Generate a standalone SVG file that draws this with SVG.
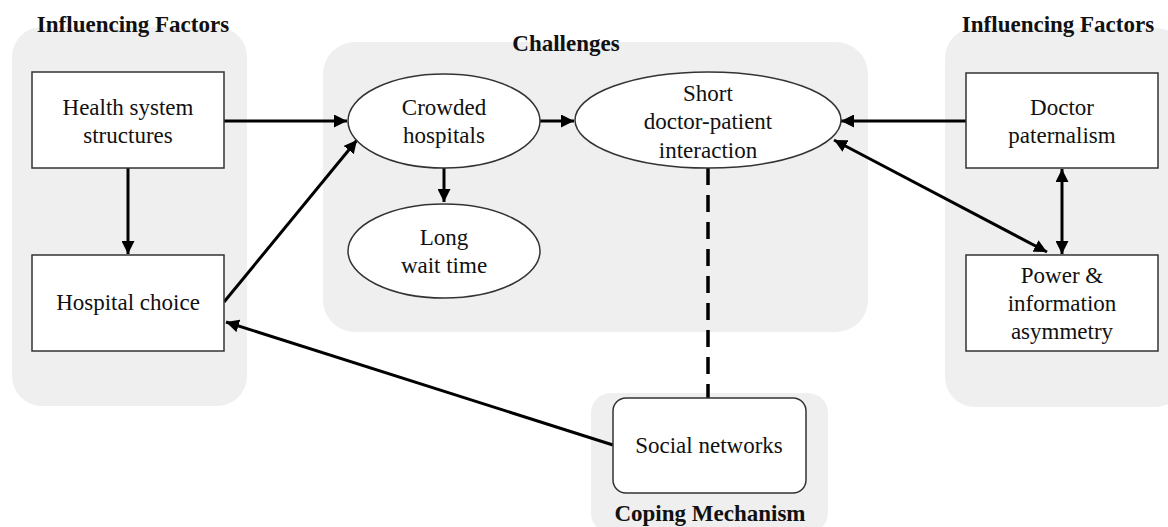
<svg xmlns="http://www.w3.org/2000/svg" width="1168" height="527" viewBox="0 0 1168 527">
<style>
.panel{fill:#efefef;stroke:none}
.box{fill:#fff;stroke:#333;stroke-width:1.5}
.t{font-family:"Liberation Serif","Times New Roman",serif;font-size:23px;fill:#111;text-anchor:middle}
.h{font-family:"Liberation Serif","Times New Roman",serif;font-size:23px;font-weight:bold;fill:#111;text-anchor:middle}
.c{fill:none;stroke:#000;stroke-width:3}
.d{fill:none;stroke:#000;stroke-width:3.5;stroke-dasharray:17 10}
</style>
<defs>
<marker id="ah" markerUnits="userSpaceOnUse" markerWidth="15" markerHeight="13" refX="13" refY="6.5" orient="auto-start-reverse" viewBox="0 0 15 13">
<path d="M0,0 L13,6.5 L0,13 Z" fill="#000"/>
</marker>
</defs>
<g id="panels">
<rect class="panel" x="12" y="27" width="235" height="379" rx="30"/>
<rect class="panel" x="323" y="42" width="545" height="290" rx="32"/>
<rect class="panel" x="945" y="28" width="240" height="379" rx="30"/>
<rect class="panel" x="591" y="393" width="237" height="140" rx="20"/>
<text class="h" x="133" y="32">Influencing Factors</text>
<text class="h" x="566" y="51">Challenges</text>
<text class="h" x="1058" y="32">Influencing Factors</text>
<text class="h" x="710" y="521">Coping Mechanism</text>
</g>
<g id="connectors">
<line class="c" x1="224" y1="121" x2="347" y2="121" marker-end="url(#ah)"/>
<line class="c" x1="128" y1="168" x2="128" y2="254" marker-end="url(#ah)"/>
<line class="c" x1="224" y1="302" x2="357" y2="140" marker-end="url(#ah)"/>
<line class="c" x1="444" y1="168" x2="444" y2="202" marker-end="url(#ah)"/>
<line class="c" x1="540" y1="121" x2="574" y2="121" marker-end="url(#ah)"/>
<line class="c" x1="966" y1="121" x2="841" y2="121" marker-end="url(#ah)"/>
<line class="c" x1="834" y1="140" x2="1047" y2="252" marker-start="url(#ah)" marker-end="url(#ah)"/>
<line class="c" x1="1062" y1="169" x2="1062" y2="254" marker-start="url(#ah)" marker-end="url(#ah)"/>
<line class="c" x1="613" y1="445" x2="226" y2="322" marker-end="url(#ah)"/>
<line class="d" x1="708" y1="168" x2="708" y2="398"/>
</g>
<g id="health">
<rect class="box" x="32" y="72" width="192" height="96"/>
<text class="t" x="128" y="115">Health system</text>
<text class="t" x="128" y="143">structures</text>
</g>
<g id="hospital">
<rect class="box" x="32" y="255" width="192" height="96"/>
<text class="t" x="128" y="310">Hospital choice</text>
</g>
<g id="crowded">
<ellipse class="box" cx="444" cy="121" rx="96" ry="47"/>
<text class="t" x="444" y="115">Crowded</text>
<text class="t" x="444" y="143">hospitals</text>
</g>
<g id="long">
<ellipse class="box" cx="444" cy="251" rx="96" ry="47"/>
<text class="t" x="444" y="245">Long</text>
<text class="t" x="444" y="273">wait time</text>
</g>
<g id="short">
<ellipse class="box" cx="708" cy="120" rx="133" ry="48"/>
<text class="t" x="708" y="101">Short</text>
<text class="t" x="708" y="129">doctor-patient</text>
<text class="t" x="708" y="158">interaction</text>
</g>
<g id="doctor">
<rect class="box" x="966" y="73" width="192" height="95"/>
<text class="t" x="1062" y="115">Doctor</text>
<text class="t" x="1062" y="143">paternalism</text>
</g>
<g id="power">
<rect class="box" x="966" y="255" width="192" height="96"/>
<text class="t" x="1062" y="283">Power &amp;</text>
<text class="t" x="1062" y="311">information</text>
<text class="t" x="1062" y="339">asymmetry</text>
</g>
<g id="social">
<rect class="box" x="613" y="398" width="193" height="95" rx="13"/>
<text class="t" x="709" y="453">Social networks</text>
</g>
</svg>
